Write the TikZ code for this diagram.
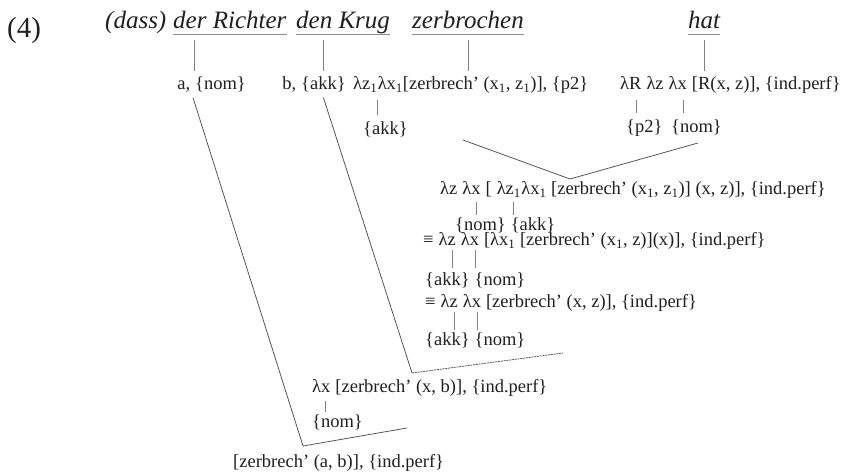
\documentclass[tikz,border=0pt]{standalone}
\usepackage{fontspec}
\setmainfont{Liberation Serif}
\newcommand\smallfnt{\fontsize{18.5}{20}\selectfont}
\newcommand\ttlfnt{\fontsize{25}{28}\selectfont\itshape}
\newcommand\numfnt{\fontsize{29}{32}\selectfont}
\begin{document}
\begin{tikzpicture}[x=1pt,y=-1pt,
  t/.style={font=\smallfnt, inner sep=0pt, anchor=base west, text=black!88},
  ttl/.style={font=\ttlfnt, inner sep=0pt, anchor=base west, text=black!88},
  num/.style={font=\numfnt, inner sep=0pt, anchor=base west, text=black!88},
  ln/.style={draw=black!70, line width=0.75pt},
  dln/.style={draw=black!70, line width=0.75pt, dash pattern=on 2pt off 0.8pt},
  tk/.style={draw=black!50, line width=0.7pt},
  ul/.style={draw=black!45, line width=0.9pt}]
\useasboundingbox (0,0) rectangle (846,473);

% ---- title row
\node[num] (four) at (7,38) {(4)};
\node[ttl] (dass) at (105,29) {(dass)};
\node[ttl] (rich) at (173,29) {der Richter};
\node[ttl] (krug) at (296,29) {den Krug};
\node[ttl] (zerb) at (412,29) {zerbrochen};
\node[ttl] (hat) at (688,29) {hat};
\foreach \n in {rich,krug,zerb,hat}{
  \coordinate (\n U) at ([yshift=-5pt]\n.base);
  \draw[ul] ([yshift=-5pt]\n.base west) -- ([yshift=-5pt]\n.base east);
}

% ---- second row
\node[t] (anom) at (195,90) {\{nom\}};
\node[t, anchor=base east] (aa) at ([xshift=-4.6pt]anom.base west) {a,};
\node[t] (bakk) at (301,90) {\{akk\}};
\node[t, anchor=base east] (bb) at ([xshift=-4.6pt]bakk.base west) {b,};
\node[t] (pz) at (353,90) {λz\textsubscript{1}};
\node[t] (px) at (pz.base east) {λx\textsubscript{1}[zerbrech’ (x\textsubscript{1}, z\textsubscript{1})], \{p2\}};
\node[t] (hR) at (620,90) {λR};
\node[t] (hz) at ([xshift=4.6pt]hR.base east) {λz};
\node[t] (hx) at ([xshift=4.6pt]hz.base east) {λx};
\node[t] (hrest) at ([xshift=4.6pt]hx.base east) {[R(x, z)], \{ind.perf\}};

% ---- third row
\node[t] (pakk) at (363,135) {\{akk\}};
\node[t] (hp2) at (626,133) {\{p2\}};
\node[t] (hnom) at (671,133) {\{nom\}};

% ticks title -> second row
\coordinate (aT) at ([xshift=-1pt]anom.north west);
\draw[tk, shorten <=6pt, shorten >=6pt] (aT |- richU) -- (aT);
\coordinate (bT) at (bakk.north);
\draw[tk, shorten <=6pt, shorten >=6pt] (bT |- krugU) -- (bT);
\coordinate (zT) at (zerbU);
\draw[tk, shorten <=6pt, shorten >=6pt] (zT) -- (zT |- px.north);
\coordinate (hT) at (hatU);
\draw[tk, shorten <=6pt, shorten >=6pt] (hT) -- (hT |- hrest.north);

% ticks second -> third row
\coordinate (pzT) at ([yshift=-10pt]pz.base east);
\draw[tk, shorten >=7pt] (pzT) -- (pzT |- pakk.north);
\coordinate (hRT) at ([xshift=-5pt,yshift=-10pt]hR.base east);
\draw[tk, shorten >=7pt] (hRT) -- (hRT |- hp2.north);
\coordinate (hxT) at ([xshift=-4pt,yshift=-10pt]hx.base east);
\draw[tk, shorten >=7pt] (hxT) -- (hxT |- hnom.north);

% ---- V join
\coordinate (vL) at (463,140);
\coordinate (vB) at (570,179);
\coordinate (vR) at (698,143);
\draw[ln] (vL) -- (vB) -- (vR);

% ---- line 1
\node[t] (m1z) at (440,195) {λz};
\node[t] (m1x) at ([xshift=4.6pt]m1z.base east) {λx};
\node[t] (m1b) at ([xshift=4.6pt]m1x.base east) {[};
\node[t] (m1z1) at ([xshift=4.6pt]m1b.base east) {λz\textsubscript{1}};
\node[t] (m1r) at (m1z1.base east) {λx\textsubscript{1} [zerbrech’ (x\textsubscript{1}, z\textsubscript{1})] (x, z)], \{ind.perf\}};
\node[t] (m1n) at (455,230) {\{nom\}};
\node[t] (m1k) at ([xshift=4.6pt]m1n.base east) {\{akk\}};
\coordinate (m1xT) at ([xshift=-4pt,yshift=-7pt]m1x.base east);
\draw[tk, shorten >=2pt] (m1xT) -- (m1xT |- m1n.north);
\coordinate (m1zT) at ([xshift=-8pt,yshift=-7pt]m1z1.base east);
\draw[tk, shorten >=2pt] (m1zT) -- (m1zT |- m1k.north);

% ---- line 2
\node[t] (m2e) at (423,246) {≡};
\node[t] (m2z) at ([xshift=4.6pt]m2e.base east) {λz};
\node[t] (m2x) at ([xshift=4.6pt]m2z.base east) {λx};
\node[t] (m2r) at ([xshift=4.6pt]m2x.base east) {[λx\textsubscript{1} [zerbrech’ (x\textsubscript{1}, z)](x)], \{ind.perf\}};
\node[t] (m2k) at (425,285) {\{akk\}};
\node[t] (m2n) at ([xshift=4.6pt]m2k.base east) {\{nom\}};
\coordinate (m2zT) at ([xshift=-4pt,yshift=-4pt]m2z.base east);
\draw[tk, shorten >=4pt] (m2zT) -- (m2zT |- m2k.north);
\coordinate (m2xT) at ([xshift=-4pt,yshift=-4pt]m2x.base east);
\draw[tk, shorten >=4pt] (m2xT) -- (m2xT |- m2n.north);

% ---- line 3
\node[t] (m3e) at (425,307) {≡};
\node[t] (m3z) at ([xshift=4.6pt]m3e.base east) {λz};
\node[t] (m3x) at ([xshift=4.6pt]m3z.base east) {λx};
\node[t] (m3r) at ([xshift=4.6pt]m3x.base east) {[zerbrech’ (x, z)], \{ind.perf\}};
\node[t] (m3k) at (425,345) {\{akk\}};
\node[t] (m3n) at ([xshift=4.6pt]m3k.base east) {\{nom\}};
\coordinate (m3zT) at ([xshift=-4pt,yshift=-5pt]m3z.base east);
\draw[tk, shorten >=2pt] (m3zT) -- (m3zT |- m3k.north);
\coordinate (m3xT) at ([xshift=-4pt,yshift=-5pt]m3x.base east);
\draw[tk, shorten >=2pt] (m3xT) -- (m3xT |- m3n.north);

% ---- b line with dashed foot
\coordinate (bC) at (412,373);
\coordinate (bE) at (563,353);
\draw[ln] ([yshift=-5pt]bakk.south) -- (bC);
\draw[dln] (bC) -- (bE);

% ---- line 4
\node[t] (l4x) at (312,392) {λx};
\node[t] (l4r) at ([xshift=4.6pt]l4x.base east) {[zerbrech’ (x, b)], \{ind.perf\}};
\node[t] (l4n) at (312,427) {\{nom\}};
\coordinate (l4T) at ([xshift=-5pt,yshift=-9pt]l4x.base east);
\draw[tk, shorten >=2pt] (l4T) -- (l4T |- l4n.north);

% ---- a line
\coordinate (aC) at (303,446);
\coordinate (aE) at (407,428);
\draw[ln] ([xshift=-2pt,yshift=-5pt]anom.south west) -- (aC) -- (aE);

% ---- final
\node[t] (fin) at (233,467) {[zerbrech’ (a, b)], \{ind.perf\}};
\end{tikzpicture}
\end{document}
